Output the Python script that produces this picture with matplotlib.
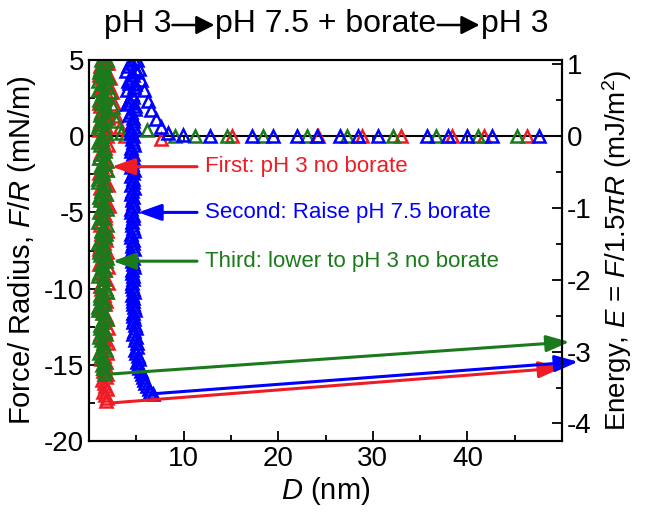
import numpy as np
import matplotlib
matplotlib.use("Agg")
import matplotlib.pyplot as plt
from matplotlib.patches import FancyArrowPatch

plt.rcParams['font.family'] = ['Liberation Sans', 'DejaVu Sans']
plt.rcParams['mathtext.fontset'] = 'custom'
plt.rcParams['mathtext.rm'] = 'Liberation Sans'
plt.rcParams['mathtext.it'] = 'Liberation Sans:italic'
plt.rcParams['axes.unicode_minus'] = False

RED = '#ee1c24'
BLUE = '#0000ff'
GREEN = '#1b7a1b'

# --- first: pH 3 no borate ---
red_app_D = [46.3, 41.8, 38.4, 33.0, 28.9, 24.2, 15.1, 7.6, 3.8, 3.3, 2.9, 2.6, 2.4, 2.2, 2.0]
red_app_F = [0.0, 0.0, 0.0, 0.0, 0.0, 0.0, 0.0, -0.2, 0.0, 0.6, 1.3, 2.1, 2.9, 3.8, 4.8]
red_ret_F = [5.0, 4.6, 4.2, 3.8, 3.4, 3.0, 2.6, 2.2, 1.8, 1.4,
             1.0, 0.6, 0.2, -0.2, -0.6, -1.0, -1.4, -1.8, -2.2, -2.6,
             -3.0, -3.4, -3.8, -4.2, -4.6, -5.0, -5.4, -5.8, -6.2, -6.6,
             -7.0, -7.4, -7.8, -8.2, -8.6, -9.0, -9.4, -9.8, -10.2, -10.6,
             -11.0, -11.4, -11.8, -12.2, -12.6, -13.0, -13.4, -13.8, -14.2, -14.6,
             -15.0, -15.4, -15.8, -16.2, -16.6, -17.0, -17.4]
red_ret_D = [1.5, 1.2, 1.8, 1.4, 2.0, 1.3, 1.7, 1.1, 1.9, 1.5,
             1.2, 1.8, 1.6, 1.3, 2.0, 1.4, 1.1, 1.7, 1.9, 1.3,
             1.6, 1.2, 1.8, 1.5, 2.1, 1.3, 1.7, 1.2, 1.9, 1.4,
             1.6, 1.1, 1.8, 1.5, 2.0, 1.3, 1.6, 1.2, 1.9, 1.4,
             1.7, 1.3, 1.8, 1.5, 2.0, 1.2, 1.6, 1.4, 1.9, 1.3,
             1.7, 1.5, 1.8, 1.6, 1.9, 1.7, 1.8]
red_ret2_F = [4.8, 4.4, 4.0, 3.6, 3.2, 2.8, 2.4, 2.0, 1.6, 1.2,
              0.8, 0.4, 0.0, -0.4, -0.8, -1.2, -1.6, -2.0, -2.4, -2.8,
              -3.2, -3.6, -4.0, -4.4, -4.8, -5.2, -5.6, -6.0, -6.4, -6.8,
              -7.2, -7.6, -8.0, -8.4, -8.8, -9.2, -9.6, -10.0, -10.4, -10.8,
              -11.2, -11.6, -12.0, -12.4, -12.8, -13.2, -13.6, -14.0, -14.4, -14.8,
              -15.2, -15.6, -16.0, -16.4, -16.8, -17.2]
red_ret2_D = [1.8, 1.4, 1.1, 1.7, 1.3, 1.9, 1.5, 1.2, 1.6, 2.0,
              1.4, 1.1, 1.9, 1.5, 1.7, 1.2, 1.8, 1.4, 1.1, 1.6,
              2.0, 1.4, 1.2, 1.9, 1.5, 1.7, 1.1, 1.6, 1.3, 1.8,
              1.2, 1.9, 1.4, 1.1, 1.7, 1.5, 2.0, 1.3, 1.6, 1.8,
              1.2, 1.5, 1.9, 1.3, 1.7, 1.5, 2.0, 1.3, 1.6, 1.8,
              1.5, 1.9, 1.4, 1.7, 1.5, 1.9]

# --- second: raise to pH 7.5 with borate ---
blue_app_D = [47.6, 42.6, 40.0, 37.9, 35.7, 30.5, 28.4, 26.5, 24.1, 22.0, 19.4, 17.2,
              12.8, 9.9, 8.3, 7.6, 7.1, 6.6, 6.2, 5.8, 5.5, 5.3, 5.1, 4.2, 3.9, 4.0]
blue_app_F = [0.0, 0.0, 0.0, 0.0, 0.0, 0.0, 0.0, 0.0, 0.0, 0.0, 0.0, 0.0,
              0.0, 0.1, 0.2, 0.6, 1.1, 1.7, 2.3, 3.0, 3.7, 4.4, 5.0, 3.5, 4.3, 2.1]
blue_ret_F = [5.0, 4.6, 4.2, 3.8, 3.4, 3.0, 2.6, 2.2, 1.8, 1.4,
              1.0, 0.6, 0.2, -0.2, -0.6, -1.0, -1.4, -1.8, -2.2, -2.6,
              -3.0, -3.4, -3.8, -4.2, -4.6, -5.0, -5.4, -5.8, -6.2, -6.6,
              -7.0, -7.4, -7.8, -8.2, -8.6, -9.0, -9.4, -9.8, -10.2, -10.6,
              -11.0, -11.4, -11.8, -12.2, -12.6, -13.0, -13.4, -13.8, -14.2, -14.6,
              -15.0, -15.4, -15.8, -16.2, -16.6, -16.9]
blue_ret_D = [4.8, 4.1, 5.1, 4.4, 4.9, 4.0, 4.7, 4.3, 4.9, 4.2,
              4.6, 4.8, 4.4, 4.5, 4.8, 4.4, 4.7, 4.5, 4.8, 4.4,
              4.6, 4.8, 4.4, 4.5, 4.7, 4.4, 4.7, 4.5, 4.8, 4.4,
              4.6, 4.8, 4.5, 4.5, 4.8, 4.5, 4.7, 4.5, 4.8, 4.6,
              4.6, 4.9, 4.6, 4.7, 5.0, 4.7, 4.9, 5.1, 5.0, 5.3,
              5.2, 5.5, 5.7, 5.9, 6.3, 6.8]
blue_ret2_F = [4.8, 4.4, 4.0, 3.6, 3.2, 2.8, 2.4, 2.0, 1.6, 1.2,
               0.8, 0.4, 0.0, -0.4, -0.8, -1.2, -1.6, -2.0, -2.4, -2.8,
               -3.2, -3.6, -4.0, -4.4, -4.8, -5.2, -5.6, -6.0, -6.4, -6.8,
               -7.2, -7.6, -8.0, -8.4, -8.8, -9.2, -9.6, -10.0, -10.4, -10.8,
               -11.2, -11.6, -12.0, -12.4, -12.8, -13.2, -13.6, -14.0, -14.4, -14.8,
               -15.2, -15.6, -16.0, -16.4, -16.8]
blue_ret2_D = [4.3, 4.9, 4.6, 4.1, 4.8, 4.5, 4.2, 4.9, 4.4, 4.7,
               4.5, 4.4, 4.7, 4.6, 4.4, 4.7, 4.5, 4.4, 4.7, 4.6,
               4.4, 4.5, 4.7, 4.6, 4.4, 4.7, 4.5, 4.6, 4.4, 4.7,
               4.5, 4.4, 4.7, 4.6, 4.5, 4.7, 4.5, 4.6, 4.5, 4.7,
               4.8, 4.6, 4.8, 4.9, 4.8, 5.0, 5.1, 4.9, 5.2, 5.1,
               5.3, 5.6, 5.8, 6.1, 6.5]

# --- third: lower back to pH 3 no borate ---
green_app_D = [45.2, 41.1, 36.7, 32.1, 27.3, 23.0, 18.4, 14.6, 11.2, 9.1, 6.1,
               3.4, 2.9, 2.5, 2.2, 2.0, 1.9]
green_app_F = [0.0, 0.0, 0.0, 0.0, 0.0, 0.0, 0.0, 0.0, 0.0, 0.0, 0.4,
               0.2, 1.0, 1.9, 2.9, 3.9, 5.0]
green_ret_F = [5.0, 4.6, 4.2, 3.8, 3.4, 3.0, 2.6, 2.2, 1.8, 1.4,
               1.0, 0.6, 0.2, -0.2, -0.6, -1.0, -1.4, -1.8, -2.2, -2.6,
               -3.0, -3.4, -3.8, -4.2, -4.6, -5.0, -5.4, -5.8, -6.2, -6.6,
               -7.0, -7.4, -7.8, -8.2, -8.6, -9.0, -9.4, -9.8, -10.2, -10.6,
               -11.0, -11.4, -11.8, -12.2, -12.6, -13.0, -13.4, -13.8, -14.2, -14.6,
               -15.0, -15.4, -15.6]
green_ret_D = [1.3, 1.6, 1.1, 1.8, 1.4, 1.0, 1.7, 1.3, 1.9, 1.2,
               1.5, 1.0, 1.8, 1.4, 1.2, 1.7, 1.1, 1.6, 1.9, 1.3,
               1.0, 1.5, 1.8, 1.2, 1.6, 1.1, 1.4, 1.9, 1.3, 1.7,
               1.0, 1.5, 1.2, 1.8, 1.4, 1.1, 1.6, 1.3, 1.9, 1.2,
               1.5, 1.0, 1.7, 1.4, 1.2, 1.8, 1.3, 1.6, 1.1, 1.5,
               1.4, 1.7, 1.6]
green_ret2_F = [4.8, 4.4, 4.0, 3.6, 3.2, 2.8, 2.4, 2.0, 1.6, 1.2,
                0.8, 0.4, 0.0, -0.4, -0.8, -1.2, -1.6, -2.0, -2.4, -2.8,
                -3.2, -3.6, -4.0, -4.4, -4.8, -5.2, -5.6, -6.0, -6.4, -6.8,
                -7.2, -7.6, -8.0, -8.4, -8.8, -9.2, -9.6, -10.0, -10.4, -10.8,
                -11.2, -11.6, -12.0, -12.4, -12.8, -13.2, -13.6, -14.0, -14.4, -14.8,
                -15.2]
green_ret2_D = [1.7, 1.2, 1.5, 1.0, 1.9, 1.4, 1.1, 1.6, 1.3, 1.8,
                1.1, 1.7, 1.4, 1.0, 1.6, 1.3, 1.9, 1.2, 1.5, 1.0,
                1.7, 1.3, 1.1, 1.6, 1.9, 1.4, 1.0, 1.5, 1.8, 1.2,
                1.6, 1.1, 1.9, 1.3, 1.7, 1.0, 1.5, 1.8, 1.2, 1.6,
                1.0, 1.4, 1.9, 1.2, 1.6, 1.1, 1.5, 1.8, 1.3, 1.7,
                1.5]

# jump-out lines pointing at the energy axis (start D, start F, end D, end F)
jump_colors = [RED, BLUE, GREEN]
jump_D0 = [2.4, 6.8, 2.4]
jump_F0 = [-17.5, -16.9, -15.6]
jump_D1 = [50.0, 51.7, 50.8]
jump_F1 = [-15.2, -14.8, -13.5]

labels = ['First: pH 3 no borate', 'Second: Raise pH 7.5 borate', 'Third: lower to pH 3 no borate']
label_tip_D = [2.4, 5.2, 2.5]
label_F = [-2.0, -5.0, -8.2]
label_text_D = 12.3

title_parts = ['pH 3', 'pH 7.5 + borate', 'pH 3']

fig = plt.figure(figsize=(6.5, 5.17), dpi=100)
ax = fig.add_axes([89/650, 1-441/517, (562-89)/650, (441-60)/517])

ax.axhline(0, color='k', lw=1.5, zorder=1)
mk = dict(marker='^', ls='none', mfc='none', ms=8.5, mew=1.8, zorder=3)
ax.plot(red_app_D, red_app_F, color=RED, **mk)
ax.plot(red_ret_D, red_ret_F, color=RED, **mk)
ax.plot(red_ret2_D, red_ret2_F, color=RED, **mk)
ax.plot(green_app_D, green_app_F, color=GREEN, **mk)
ax.plot(green_ret_D, green_ret_F, color=GREEN, **mk)
ax.plot(green_ret2_D, green_ret2_F, color=GREEN, **mk)
ax.plot(blue_app_D, blue_app_F, color=BLUE, **mk)
ax.plot(blue_ret_D, blue_ret_F, color=BLUE, **mk)
ax.plot(blue_ret2_D, blue_ret2_F, color=BLUE, **mk)

for c, x0, y0, x1, y1 in zip(jump_colors, jump_D0, jump_F0, jump_D1, jump_F1):
    ax.annotate('', xy=(x1, y1), xytext=(x0, y0), annotation_clip=False,
                arrowprops=dict(arrowstyle='-|>,head_length=0.7,head_width=0.25',
                                mutation_scale=20, color=c, lw=2.2,
                                shrinkA=0, shrinkB=0), zorder=4)

for txt, c, xt, y in zip(labels, jump_colors, label_tip_D, label_F):
    ax.annotate(txt, xy=(xt, y), xytext=(label_text_D, y), color=c, fontsize=16,
                va='center', ha='left',
                arrowprops=dict(arrowstyle='-|>,head_length=0.7,head_width=0.25',
                                mutation_scale=20, color=c, lw=2.2,
                                shrinkA=4, shrinkB=0), zorder=4)

ax.set_xlim(0, 50)
ax.set_ylim(-20, 5)
ax.set_xticks([10, 20, 30, 40])
ax.set_xticks([5, 15, 25, 35, 45], minor=True)
ax.set_yticks([-20, -15, -10, -5, 0, 5])
ax.set_yticks(np.arange(-17.5, 5, 5), minor=True)
# small ticks on the zero line
ax.vlines(ax.get_xticks(), -0.35, 0, color='k', lw=1.2, zorder=1)

ax2 = ax.twinx()
ax2.set_ylim(-20/(1.5*np.pi), 5/(1.5*np.pi))
ax2.set_yticks([-4, -3, -2, -1, 0, 1])
ax2.set_yticks(np.arange(-4.0, 1.01, 0.5), minor=True)

for a in (ax, ax2):
    for s in a.spines.values():
        s.set_linewidth(1.5)
ax.tick_params(axis='both', which='both', direction='in', labelsize=20, width=1.3, top=False, right=False)
ax.tick_params(which='major', length=7)
ax.tick_params(which='minor', length=4)
ax2.tick_params(axis='y', which='both', direction='in', labelsize=20, width=1.3)
ax2.tick_params(which='major', length=7)
ax2.tick_params(which='minor', length=4)

ax.set_xlabel('$D$ (nm)', fontsize=21, labelpad=2)
ax.set_ylabel('Force/ Radius, $F/R$ (mN/m)', fontsize=21, labelpad=4)
ax2.set_ylabel(r'Energy, $E$ = $F$/1.5$\pi$$R$ (mJ/m$^2$)', fontsize=20, labelpad=6)

# title: three text pieces joined by solid-headed arrows, centred as a whole
W, H = 650, 517
title_y = 1 - 24/H
arrow_len = 44
texts = [fig.text(0, title_y, s, fontsize=23, ha='left', va='center') for s in title_parts]
fig.canvas.draw()
r = fig.canvas.get_renderer()
widths = [t.get_window_extent(r).width for t in texts]
total = sum(widths) + arrow_len * (len(texts) - 1)
x = 326 - total / 2
for i, t in enumerate(texts):
    t.set_x(x / W)
    x += widths[i]
    if i < len(texts) - 1:
        fig.patches.append(FancyArrowPatch(
            ((x + 1) / W, title_y - 1/H), ((x + arrow_len - 1) / W, title_y - 1/H),
            transform=fig.transFigure,
            arrowstyle='-|>,head_length=0.55,head_width=0.28', mutation_scale=20,
            color='k', lw=1.8, shrinkA=0, shrinkB=0))
        x += arrow_len

fig.savefig('out.png', dpi=100)
